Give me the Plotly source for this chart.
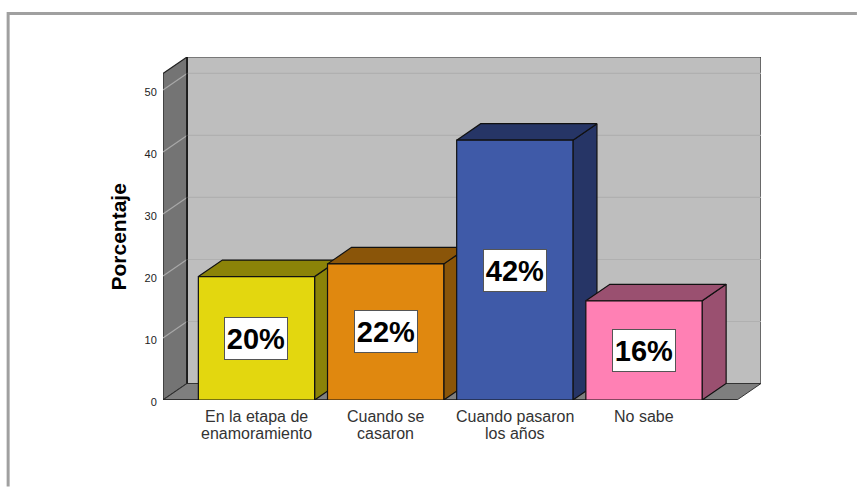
import plotly.graph_objects as go

# Data
categories = ["En la etapa de<br>enamoramiento", "Cuando se<br>casaron", "Cuando pasaron<br>los años", "No sabe"]
values = [19.9, 21.95, 41.9, 16.0]
labels = ["20%", "22%", "42%", "16%"]
y_ticks = [0, 10, 20, 30, 40, 50]
front_colors = ["#E3D70F", "#E0880F", "#3F5AA8", "#FF80B4"]
side_colors = ["#8B8308", "#8A5509", "#263566", "#9A5070"]

# Pseudo-3D geometry, in axis units
DX, DY = 0.186, 2.66          # depth offset
BAR_W = 0.9
X0, X1 = -0.7237, 3.72        # front floor edge
Y_TOP = 52.65
LINE = dict(color="#111111", width=1.2)

W, H = 857, 487
ML, MR, MT, MB = 162.5, 96, 56.7, 86.7
pw, ph = W - ML - MR, H - MT - MB


def px(x):
    return (x - ML) / pw


def py(y):
    return (H - MB - y) / ph


fig = go.Figure()


def poly(xs, ys, fill, line=LINE):
    fig.add_trace(go.Scatter(x=xs, y=ys, mode="lines", fill="toself", fillcolor=fill,
                             line=line, hoverinfo="skip", showlegend=False))


def seg(xs, ys, color, width=1.2):
    fig.add_trace(go.Scatter(x=xs, y=ys, mode="lines", line=dict(color=color, width=width),
                             hoverinfo="skip", showlegend=False))


# Walls and floor
poly([X0 + DX, X1 + DX, X1 + DX, X0 + DX, X0 + DX], [DY, DY, Y_TOP + DY, Y_TOP + DY, DY], "#BEBEBE",
     dict(color="#333333", width=1.2))
poly([X0, X0 + DX, X0 + DX, X0, X0], [0, DY, Y_TOP + DY, Y_TOP, 0], "#747474", dict(color="#222222", width=1.2))
poly([X0, X1, X1 + DX, X0 + DX, X0], [0, 0, DY, DY, 0], "#7F7F7F", dict(color="#333333", width=1.0))

# Gridlines
for t in y_ticks[1:]:
    seg([X0 + DX, X1 + DX], [t + DY, t + DY], "#B0B0B0", 1.2)
    seg([X0, X0 + DX], [t, t + DY], "#A8A8A8", 1.2)

# Redraw the edges that gridlines touch
seg([X0 + DX, X0 + DX], [DY, Y_TOP + DY], "#111111", 1.4)
seg([X0, X1], [0, 0], "#222222", 1.4)

# Bars
for i, (v, fc, sc) in enumerate(zip(values, front_colors, side_colors)):
    l, r = i - BAR_W / 2, i + BAR_W / 2
    poly([r, r + DX, r + DX, r, r], [0, DY, v + DY, v, 0], sc)
    poly([l, r, r + DX, l + DX, l], [v, v, v + DY, v + DY, v], sc)
    poly([l, r, r, l, l], [0, 0, v, v, 0], fc)

annotations = []
# Value labels
for i, (v, t) in enumerate(zip(values, labels)):
    annotations.append(dict(x=i, y=v / 2, xref="x", yref="y", text=f"<b>{t}</b>", showarrow=False,
                            width=62, height=41, bgcolor="white", bordercolor="#555555", borderwidth=1,
                            borderpad=0, font=dict(family="Liberation Sans", size=29, color="black")))
# Category labels, line by line
for i, c in enumerate(categories):
    for j, part in enumerate(c.split("<br>")):
        annotations.append(dict(x=i, y=0, xref="x", yref="y", text=part, showarrow=False,
                                yanchor="middle", yshift=-16.5 - 17 * j,
                                font=dict(family="Liberation Sans", size=16, color="#333333")))
# Axis title
annotations.append(dict(x=px(118), y=py(237), xref="paper", yref="paper", text="<b>Porcentaje</b>",
                        showarrow=False, textangle=-90, xanchor="center", yanchor="middle",
                        font=dict(family="Liberation Sans", size=21, color="black")))

# Outer frame, in paper coordinates
frame = dict(type="path", xref="paper", yref="paper",
             path=f"M {px(7.5)} {py(H)} L {px(7.5)} {py(13)} L {px(W)} {py(13)}",
             line=dict(color="#A0A0A0", width=3))

fig.update_layout(
    width=W, height=H, autosize=False,
    margin=dict(l=ML, r=MR, t=MT, b=MB, pad=0),
    paper_bgcolor="white", plot_bgcolor="white", showlegend=False,
    annotations=annotations, shapes=[frame],
    xaxis=dict(range=[X0, X1 + DX], tickvals=list(range(len(categories))), showticklabels=False,
               showgrid=False, zeroline=False, ticks="", fixedrange=True),
    yaxis=dict(range=[0, Y_TOP + DY], tickvals=y_ticks, ticks="outside", ticklen=3, tickcolor="rgba(0,0,0,0)",
               showgrid=False, zeroline=False, fixedrange=True, ticklabelshift=2,
               tickfont=dict(family="Liberation Sans", size=11, color="#222222")),
)
fig.write_html("out.html", config=dict(displayModeBar=False),
               post_script="document.body.style.margin='0';document.documentElement.style.overflow='hidden';")
